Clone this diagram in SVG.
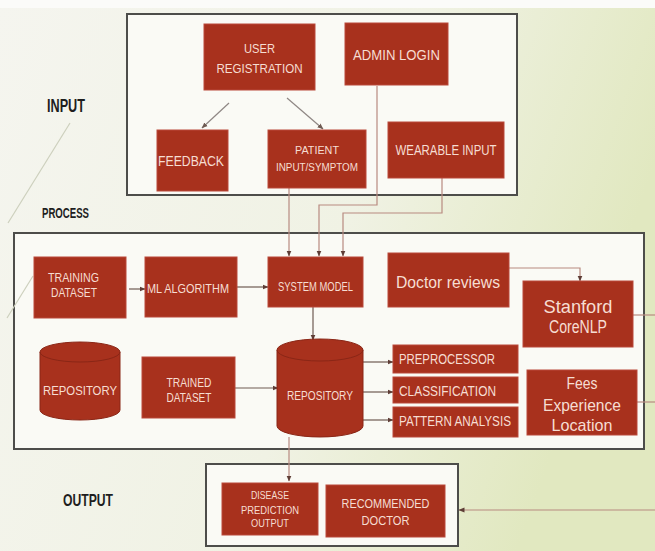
<svg xmlns="http://www.w3.org/2000/svg" width="655" height="551" viewBox="0 0 655 551">
<defs>
<linearGradient id="bg" x1="0" y1="0" x2="1" y2="0.3">
<stop offset="0" stop-color="#f5f5ef"/>
<stop offset="0.6" stop-color="#f0f2e4"/>
<stop offset="1" stop-color="#e1e8c0"/>
</linearGradient>
<marker id="ah" markerWidth="6" markerHeight="6" refX="5.5" refY="3" orient="auto" markerUnits="userSpaceOnUse">
<path d="M0,0.5 L6,3 L0,5.5 z" fill="#5e3d36"/>
</marker>
<marker id="ahg" markerWidth="6" markerHeight="6" refX="5.5" refY="3" orient="auto" markerUnits="userSpaceOnUse">
<path d="M0,0.5 L6,3 L0,5.5 z" fill="#6e5a52"/>
</marker>
</defs>
<style>
.frame{fill:#fafaf5;stroke:#4d4d4a;stroke-width:2}
.box{fill:#a8311d;stroke:#b9483a;stroke-width:1}
.cyl{fill:#a8311d;stroke:#8a2616;stroke-width:1}
.t{font-family:"Liberation Sans",Arial,sans-serif;fill:#f6ddd2;text-anchor:middle}
.ts{font-family:"Liberation Sans",Arial,sans-serif;fill:#f6ddd2;text-anchor:start}
.lab{font-family:"Liberation Sans",Arial,sans-serif;font-weight:bold;fill:#1e1e1e;text-anchor:middle}
.c{fill:none;stroke:#b88a80;stroke-width:1.2}
.cg{fill:none;stroke:#8f8784;stroke-width:1.2}
.cd{fill:none;stroke:#6e5a52;stroke-width:1.2}
.deco{fill:none;stroke:#cdd0bd;stroke-width:1.2}
</style>
<rect x="0" y="0" width="655" height="551" fill="url(#bg)"/>
<rect x="0" y="0" width="655" height="8" fill="#fbfbf9"/>
<line class="deco" x1="70" y1="123" x2="8" y2="223"/>

<g id="input-frame"><rect class="frame" x="127" y="14" width="390" height="181"/></g>
<g id="process-frame"><rect class="frame" x="14" y="233" width="630" height="216" fill="#f8f8f1"/></g>
<g id="output-frame"><rect class="frame" x="206" y="464" width="252" height="82"/></g>
<line class="deco" x1="33" y1="276" x2="7" y2="318"/>

<text class="lab" x="66" y="112" font-size="18" textLength="38" lengthAdjust="spacingAndGlyphs">INPUT</text>
<text class="lab" x="65.5" y="218" font-size="14" textLength="47" lengthAdjust="spacingAndGlyphs">PROCESS</text>
<text class="lab" x="88" y="506" font-size="17" textLength="50" lengthAdjust="spacingAndGlyphs">OUTPUT</text>

<g id="connectors">
<line class="cg" x1="229" y1="103" x2="202" y2="128" marker-end="url(#ahg)"/>
<line class="cg" x1="287" y1="98" x2="323" y2="129" marker-end="url(#ahg)"/>
<polyline class="c" points="289,188 289,256" marker-end="url(#ah)"/>
<polyline class="c" points="377,86 377,205 319,205 319,256" marker-end="url(#ah)"/>
<polyline class="c" points="442,178 442,213 343,213 343,256" marker-end="url(#ah)"/>
<line class="cd" x1="129" y1="289" x2="145" y2="289" marker-end="url(#ah)"/>
<line class="cd" x1="237" y1="287" x2="268" y2="287" marker-end="url(#ah)"/>
<line class="cd" x1="313" y1="307" x2="313" y2="340" marker-end="url(#ah)"/>
<line class="cd" x1="235" y1="388" x2="278" y2="388" marker-end="url(#ah)"/>
<line class="cd" x1="363" y1="362" x2="393" y2="362" marker-end="url(#ah)"/>
<line class="cd" x1="363" y1="392" x2="393" y2="392" marker-end="url(#ah)"/>
<line class="cd" x1="363" y1="420" x2="393" y2="420" marker-end="url(#ah)"/>
<polyline class="c" points="509,268 580,268 580,281" marker-end="url(#ah)"/>
<line class="c" x1="633" y1="315" x2="655" y2="315"/>
<line class="c" x1="637" y1="402" x2="655" y2="402"/>
<line class="c" x1="655" y1="510" x2="459" y2="510" marker-end="url(#ah)"/>
<line class="c" x1="289" y1="437" x2="289" y2="481" marker-end="url(#ah)"/>
</g>

<g id="user-registration">
<rect class="box" x="204" y="24" width="111" height="66"/>
<text class="t" x="259.5" y="53" font-size="13" textLength="31" lengthAdjust="spacingAndGlyphs">USER</text>
<text class="t" x="259.5" y="73" font-size="13" textLength="86" lengthAdjust="spacingAndGlyphs">REGISTRATION</text>
</g>
<g id="admin-login">
<rect class="box" x="345" y="23" width="103" height="62"/>
<text class="t" x="396.5" y="60" font-size="14" textLength="87" lengthAdjust="spacingAndGlyphs">ADMIN LOGIN</text>
</g>
<g id="feedback">
<rect class="box" x="157" y="130" width="71" height="61"/>
<text class="t" x="191" y="166" font-size="14" textLength="66" lengthAdjust="spacingAndGlyphs">FEEDBACK</text>
</g>
<g id="patient-input">
<rect class="box" x="268" y="130" width="98" height="58"/>
<text class="t" x="317" y="154" font-size="11" textLength="44" lengthAdjust="spacingAndGlyphs">PATIENT</text>
<text class="t" x="317" y="171" font-size="11" textLength="82" lengthAdjust="spacingAndGlyphs">INPUT/SYMPTOM</text>
</g>
<g id="wearable-input">
<rect class="box" x="388" y="122" width="116" height="56"/>
<text class="t" x="446" y="155" font-size="14" textLength="101" lengthAdjust="spacingAndGlyphs">WEARABLE INPUT</text>
</g>

<g id="training-dataset">
<rect class="box" x="34" y="257" width="92" height="61"/>
<text class="t" x="73.5" y="282" font-size="13" textLength="51" lengthAdjust="spacingAndGlyphs">TRAINING</text>
<text class="t" x="74" y="297" font-size="13" textLength="46" lengthAdjust="spacingAndGlyphs">DATASET</text>
</g>
<g id="ml-algorithm">
<rect class="box" x="145" y="257" width="92" height="60"/>
<text class="t" x="188" y="292.5" font-size="13" textLength="82" lengthAdjust="spacingAndGlyphs">ML ALGORITHM</text>
</g>
<g id="system-model">
<rect class="box" x="268" y="257" width="95" height="50"/>
<text class="t" x="315.5" y="290.5" font-size="12" textLength="75" lengthAdjust="spacingAndGlyphs">SYSTEM MODEL</text>
</g>
<g id="doctor-reviews">
<rect class="box" x="388" y="253" width="121" height="54"/>
<text class="t" x="448" y="288" font-size="17" textLength="104" lengthAdjust="spacingAndGlyphs">Doctor reviews</text>
</g>
<g id="stanford-corenlp">
<rect class="box" x="523" y="281" width="110" height="66"/>
<text class="t" x="578" y="313" font-size="18" textLength="69" lengthAdjust="spacingAndGlyphs">Stanford</text>
<text class="t" x="578" y="333" font-size="18" textLength="58" lengthAdjust="spacingAndGlyphs">CoreNLP</text>
</g>
<g id="repository-left">
<path class="cyl" d="M40,352 V410 A40,10 0 0 0 120,410 V352 Z"/>
<ellipse class="cyl" cx="80" cy="352" rx="40" ry="10"/>
<text class="t" x="80" y="395" font-size="13" textLength="74" lengthAdjust="spacingAndGlyphs">REPOSITORY</text>
</g>
<g id="trained-dataset">
<rect class="box" x="142" y="357" width="93" height="61"/>
<text class="t" x="189" y="387" font-size="13" textLength="45" lengthAdjust="spacingAndGlyphs">TRAINED</text>
<text class="t" x="189" y="402" font-size="13" textLength="45" lengthAdjust="spacingAndGlyphs">DATASET</text>
</g>
<g id="repository-right">
<path class="cyl" d="M277,350 V426 A43,11 0 0 0 363,426 V350 Z"/>
<ellipse class="cyl" cx="320" cy="350" rx="43" ry="11"/>
<text class="t" x="320" y="400" font-size="12" textLength="66" lengthAdjust="spacingAndGlyphs">REPOSITORY</text>
</g>
<g id="preprocessor">
<rect class="box" x="393" y="345" width="125" height="28"/>
<text class="ts" x="399" y="363.5" font-size="14" textLength="96" lengthAdjust="spacingAndGlyphs">PREPROCESSOR</text>
</g>
<g id="classification">
<rect class="box" x="393" y="377" width="125" height="26"/>
<text class="ts" x="399" y="396" font-size="14" textLength="97" lengthAdjust="spacingAndGlyphs">CLASSIFICATION</text>
</g>
<g id="pattern-analysis">
<rect class="box" x="393" y="407" width="125" height="30"/>
<text class="ts" x="399" y="425.5" font-size="14" textLength="112" lengthAdjust="spacingAndGlyphs">PATTERN ANALYSIS</text>
</g>
<g id="fees-experience-location">
<rect class="box" x="527" y="370" width="110" height="65"/>
<text class="t" x="582" y="389" font-size="17" textLength="31" lengthAdjust="spacingAndGlyphs">Fees</text>
<text class="t" x="582" y="411" font-size="17" textLength="78" lengthAdjust="spacingAndGlyphs">Experience</text>
<text class="t" x="582" y="431" font-size="17" textLength="61" lengthAdjust="spacingAndGlyphs">Location</text>
</g>

<g id="disease-prediction-output">
<rect class="box" x="222" y="483" width="96" height="52"/>
<text class="t" x="270" y="499" font-size="10.5" textLength="38" lengthAdjust="spacingAndGlyphs">DISEASE</text>
<text class="t" x="270" y="513.5" font-size="10.5" textLength="58" lengthAdjust="spacingAndGlyphs">PREDICTION</text>
<text class="t" x="270" y="527" font-size="10.5" textLength="38" lengthAdjust="spacingAndGlyphs">OUTPUT</text>
</g>
<g id="recommended-doctor">
<rect class="box" x="326" y="485" width="119" height="52"/>
<text class="t" x="385.5" y="508" font-size="13" textLength="88" lengthAdjust="spacingAndGlyphs">RECOMMENDED</text>
<text class="t" x="385.5" y="525" font-size="13" textLength="48" lengthAdjust="spacingAndGlyphs">DOCTOR</text>
</g>
</svg>
